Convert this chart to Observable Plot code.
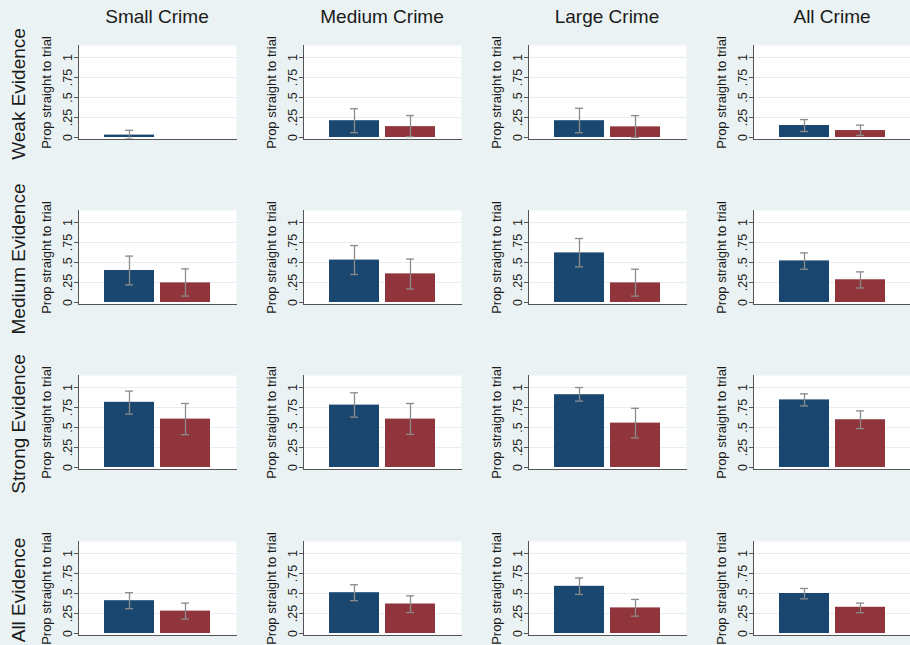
<!DOCTYPE html>
<html>
<head>
<meta charset="utf-8">
<script src="https://cdn.jsdelivr.net/npm/d3@7"></script>
<script src="https://cdn.jsdelivr.net/npm/@observablehq/plot@0.6"></script>
<style>
  html, body { margin: 0; padding: 0; background: #eaf2f3; overflow: hidden; }
  #fig { position: relative; width: 910px; height: 645px; background: #eaf2f3; font-family: "Liberation Sans", Arial, sans-serif; color: #1a1a1a; overflow: hidden; }
  .cell { position: absolute; width: 210px; height: 110px; }
  .cell svg { max-width: none !important; }
  .coltitle { position: absolute; font-size: 19px; transform: translate(-50%, -50%); white-space: nowrap; }
  .rowlabel { position: absolute; font-size: 19px; transform: translate(-50%, -50%) rotate(-90deg); white-space: nowrap; }
</style>
</head>
<body>
<div id="fig"></div>
<script>
// ---- data ----
const crimes = ["Small Crime", "Medium Crime", "Large Crime", "All Crime"];
const evidence = ["Weak Evidence", "Medium Evidence", "Strong Evidence", "All Evidence"];
const groups = ["Group A", "Group B"];
const groupColors = ["#1a476f", "#90353b"];
const yTicks = [0, 0.25, 0.5, 0.75, 1];
const yTickLabels = ["0", ".25", ".5", ".75", "1"];
const yLabel = "Prop straight to trial";

// rows = evidence, cols = crime
const blueMean = [
  [0.03, 0.21, 0.21, 0.15],
  [0.40, 0.53, 0.62, 0.52],
  [0.815, 0.78, 0.91, 0.845],
  [0.41, 0.51, 0.59, 0.50]
];
const blueLo = [
  [-0.02, 0.06, 0.06, 0.075],
  [0.22, 0.35, 0.445, 0.416],
  [0.667, 0.63, 0.83, 0.77],
  [0.31, 0.41, 0.488, 0.433]
];
const blueHi = [
  [0.09, 0.36, 0.365, 0.224],
  [0.58, 0.712, 0.80, 0.62],
  [0.955, 0.934, 1.0, 0.92],
  [0.51, 0.61, 0.693, 0.563]
];
const redMean = [
  [null, 0.136, 0.133, 0.087],
  [0.245, 0.358, 0.245, 0.284],
  [0.605, 0.605, 0.555, 0.597],
  [0.28, 0.369, 0.32, 0.328]
];
const redLo = [
  [null, 0.01, 0.0, 0.025],
  [0.08, 0.169, 0.08, 0.181],
  [0.41, 0.415, 0.37, 0.486],
  [0.18, 0.262, 0.217, 0.26]
];
const redHi = [
  [null, 0.275, 0.274, 0.154],
  [0.42, 0.543, 0.416, 0.383],
  [0.80, 0.80, 0.74, 0.708],
  [0.38, 0.471, 0.426, 0.38]
];

// ---- layout ----
const plotTops = [45, 210, 375, 541];
const fig = document.getElementById("fig");

crimes.forEach((c, ci) => {
  const d = document.createElement("div");
  d.className = "coltitle";
  d.textContent = c;
  d.style.left = (157 + 225 * ci) + "px";
  d.style.top = "17px";
  fig.appendChild(d);
});
evidence.forEach((e, ri) => {
  const d = document.createElement("div");
  d.className = "rowlabel";
  d.textContent = e;
  d.style.left = "19px";
  d.style.top = (plotTops[ri] + 49) + "px";
  fig.appendChild(d);
});

for (let r = 0; r < 4; r++) {
  for (let c = 0; c < 4; c++) {
    const data = [];
    if (blueMean[r][c] != null) data.push({group: groups[0], mean: blueMean[r][c], lo: blueLo[r][c], hi: blueHi[r][c]});
    if (redMean[r][c] != null) data.push({group: groups[1], mean: redMean[r][c], lo: redLo[r][c], hi: redHi[r][c]});
    const chart = Plot.plot({
      width: 210,
      height: 110,
      marginLeft: 48,
      marginRight: 4,
      marginTop: 10,
      marginBottom: 6,
      style: {background: "transparent", fontFamily: "'Liberation Sans', Arial, sans-serif", overflow: "visible", color: "#1a1a1a"},
      x: {domain: groups, paddingInner: 0.107, paddingOuter: 0.464, axis: null},
      y: {domain: [-0.025, 1.15]},
      color: {domain: groups, range: groupColors},
      marks: [
        Plot.frame({fill: "white", stroke: null}),
        Plot.gridY(yTicks.slice(1), {stroke: "#e6eef0", strokeOpacity: 1}),
        Plot.barY(data, {x: "group", y: "mean", fill: "group"}),
        Plot.ruleX(data, {x: "group", y1: "lo", y2: "hi", stroke: "#8c8c8c", strokeWidth: 1.3}),
        Plot.tickY(data, {x: "group", y: "hi", insetLeft: 21, insetRight: 21, stroke: "#8c8c8c", strokeWidth: 1.3}),
        Plot.tickY(data, {x: "group", y: "lo", insetLeft: 21, insetRight: 21, stroke: "#8c8c8c", strokeWidth: 1.3}),
        Plot.axisY(yTicks, {
          tickFormat: (v) => yTickLabels[yTicks.indexOf(v)],
          tickRotate: -90,
          tickSize: 4,
          tickPadding: 3,
          fontSize: 12.5,
          stroke: "#555",
          label: null
        }),
        Plot.axisY({
          ticks: [],
          tickSize: 0,
          label: yLabel,
          labelAnchor: "center",
          labelOffset: 37,
          fontSize: 13,
          labelArrow: "none"
        }),
        Plot.frame({anchor: "left", stroke: "#555"}),
        Plot.frame({anchor: "bottom", stroke: "#555"})
      ]
    });
    const cell = document.createElement("div");
    cell.className = "cell";
    cell.style.left = (30 + 225 * c) + "px";
    cell.style.top = (plotTops[r] - 10) + "px";
    cell.appendChild(chart);
    fig.appendChild(cell);
  }
}
</script>
</body>
</html>
